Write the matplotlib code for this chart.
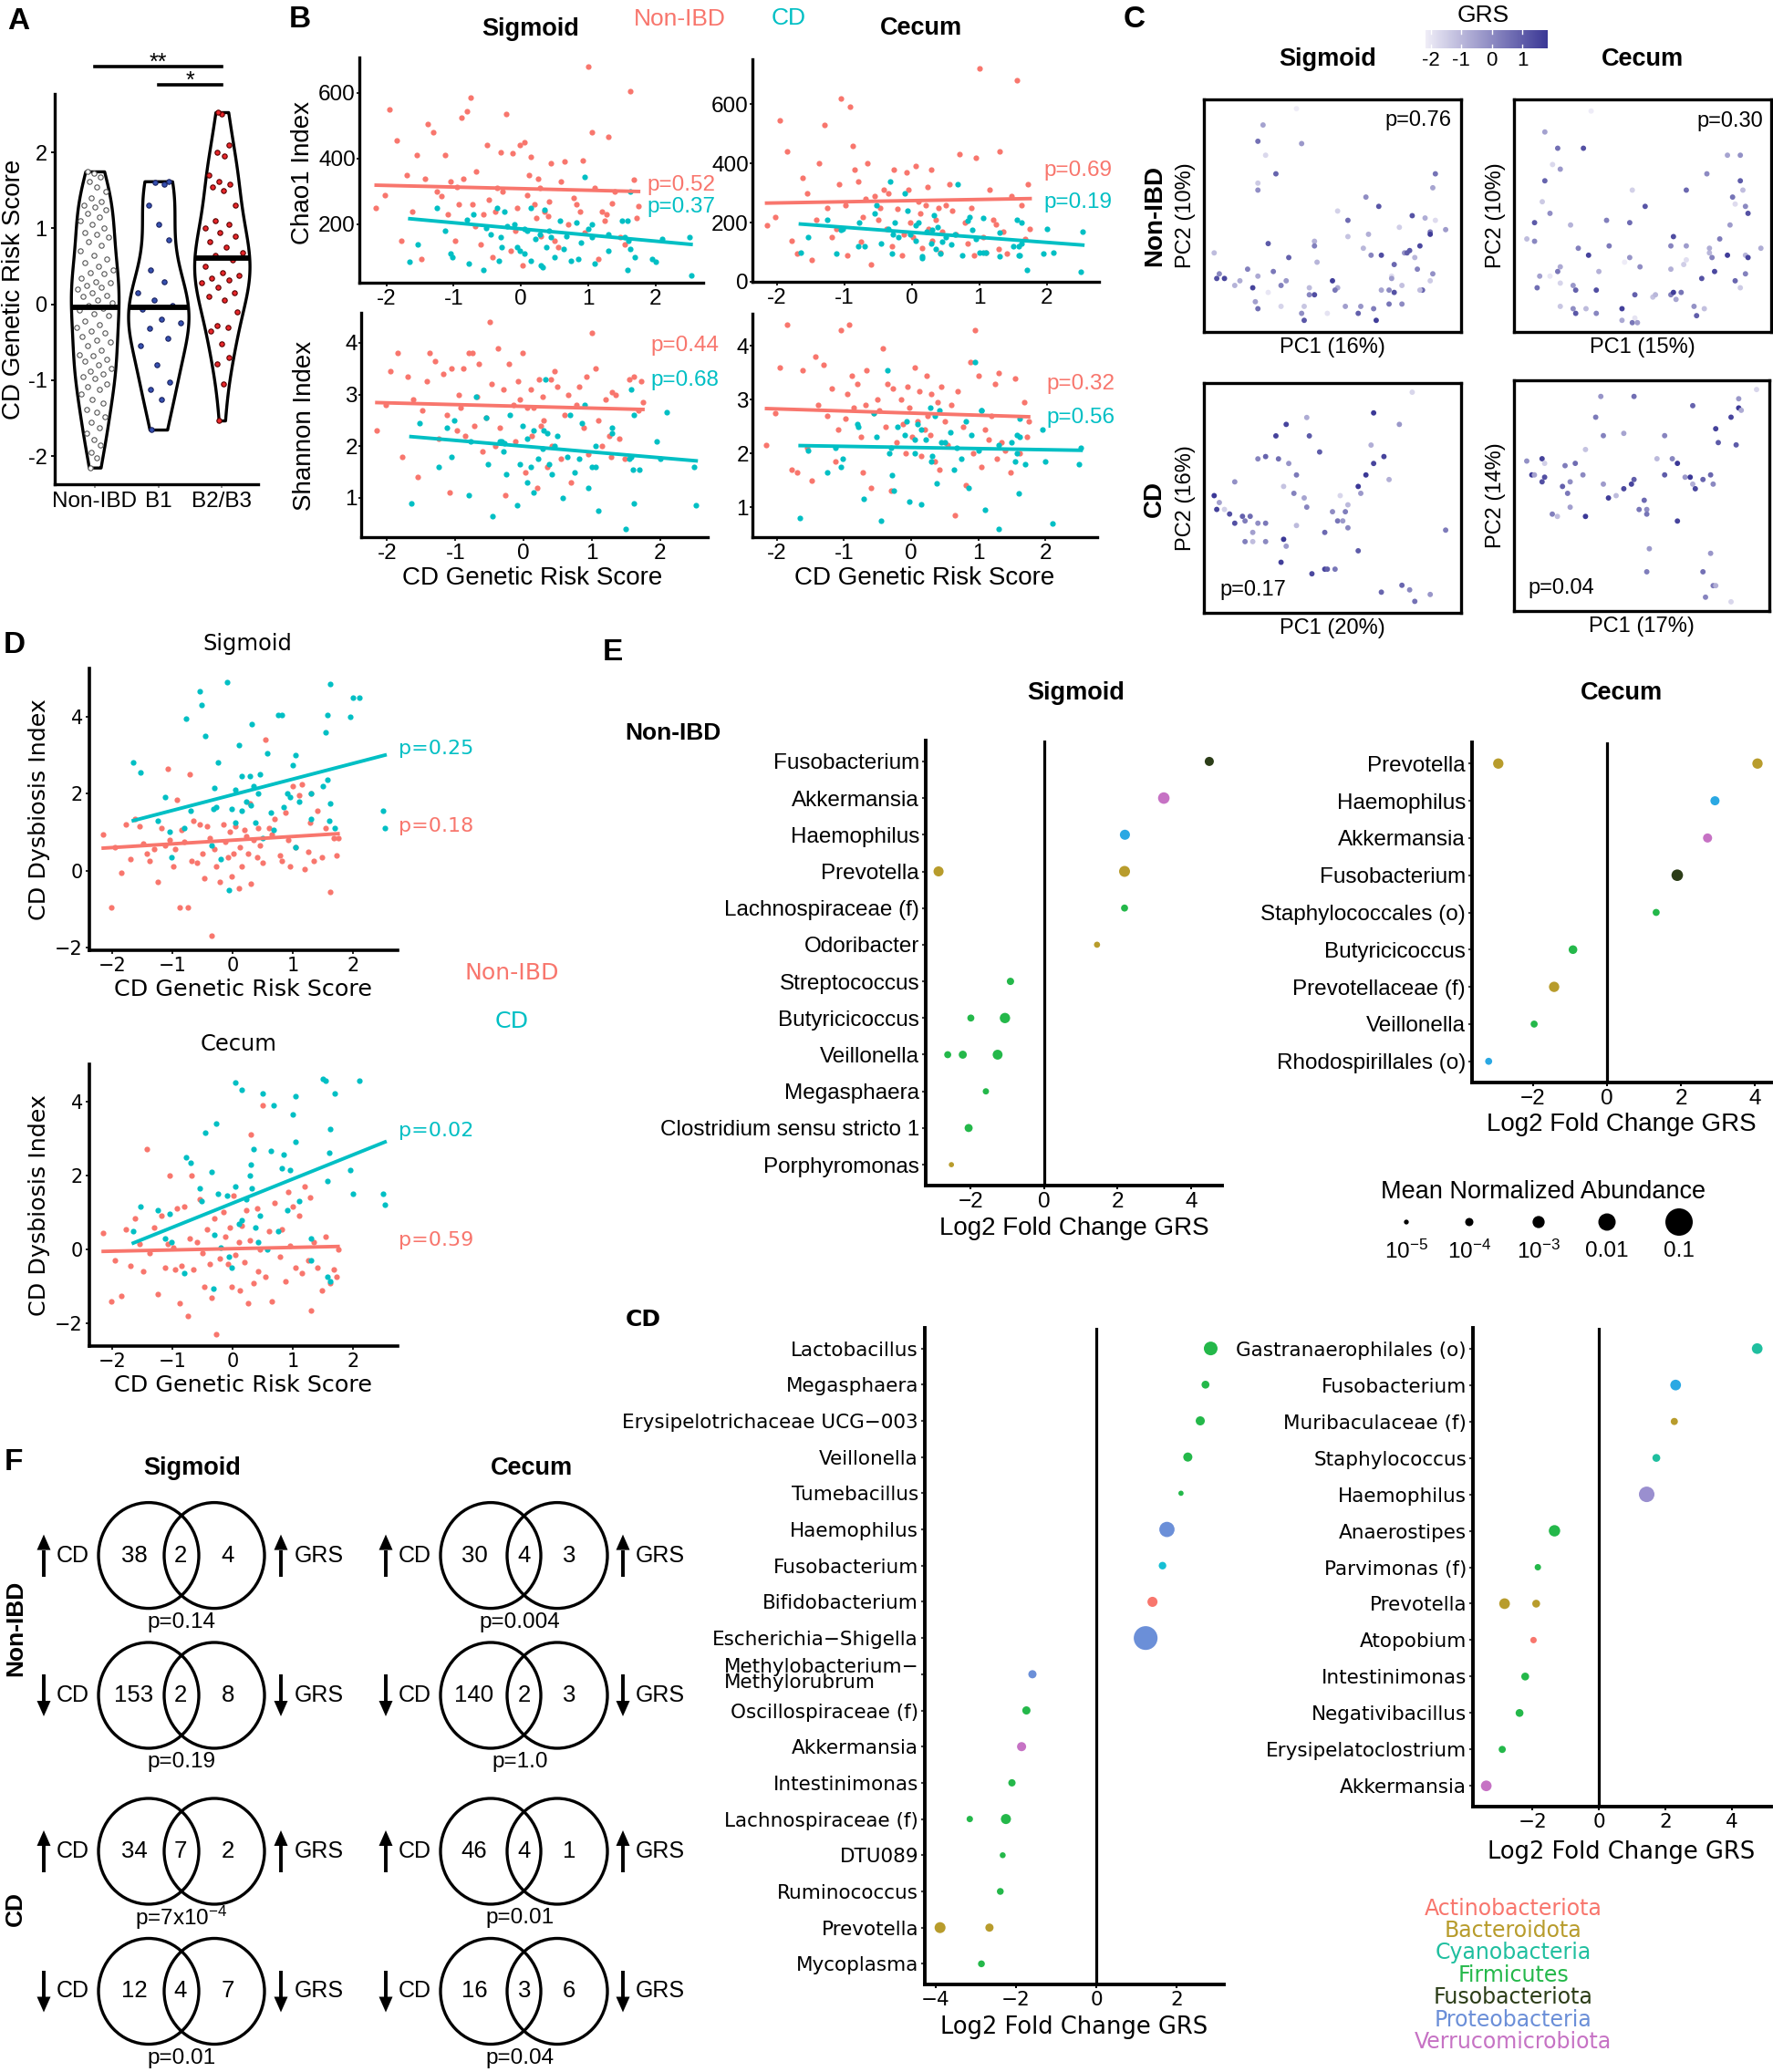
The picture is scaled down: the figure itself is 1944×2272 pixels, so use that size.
import numpy as np
import matplotlib
matplotlib.use('Agg')
import matplotlib.pyplot as plt
from matplotlib import font_manager
from matplotlib.colors import LinearSegmentedColormap, Normalize
from matplotlib.patches import Ellipse, Polygon

W, H = 1944, 2272
names = {f.name for f in font_manager.fontManager.ttflist}
ARIAL = 'Liberation Sans' if 'Liberation Sans' in names else 'DejaVu Sans'
WIDE = 'DejaVu Sans'
plt.rcParams['font.family'] = ARIAL
plt.rcParams['axes.unicode_minus'] = False
plt.rcParams['mathtext.fontset'] = 'custom'
plt.rcParams['mathtext.rm'] = ARIAL
plt.rcParams['mathtext.it'] = ARIAL + ':italic'
plt.rcParams['mathtext.bf'] = ARIAL + ':bold'

RED = '#f8766d'
CYAN = '#00bfc4'

# ---------------- data ----------------
# CD genetic risk score per subject
grs_nonibd = [-2.15, -2.02, -1.95, -1.85, -1.78, -1.70, -1.62, -1.55, -1.48, -1.42,
              -1.38, -1.30, -1.25, -1.18, -1.12, -1.08, -1.05, -0.98, -0.95, -0.92,
              -0.88, -0.85, -0.80, -0.75, -0.72, -0.68, -0.66, -0.60, -0.55, -0.50,
              -0.47, -0.42, -0.38, -0.35, -0.30, -0.27, -0.22, -0.15, -0.12, -0.08,
              -0.05, -0.02, 0.02, 0.05, 0.10, 0.12, 0.15, 0.20, 0.23, 0.25,
              0.28, 0.30, 0.35, 0.40, 0.42, 0.45, 0.50, 0.55, 0.60, 0.65,
              0.70, 0.78, 0.82, 0.88, 0.92, 0.95, 1.00, 1.05, 1.10, 1.15,
              1.20, 1.25, 1.28, 1.30, 1.35, 1.40, 1.48, 1.55, 1.62, 1.68, 1.72, 1.75]
grs_b1 = [-1.65, -1.25, -1.12, -1.02, -0.80, -0.55, -0.45, -0.32, -0.25, -0.20,
          -0.06, -0.02, 0.05, 0.15, 0.30, 0.45, 0.85, 1.05, 1.30, 1.58, 1.60, 1.62]
grs_b2b3 = [-1.53, -1.05, -0.78, -0.70, -0.52, -0.35, -0.30, -0.28, -0.10, 0.05,
            0.10, 0.15, 0.22, 0.28, 0.32, 0.35, 0.38, 0.42, 0.50, 0.58,
            0.64, 0.68, 0.75, 0.82, 0.90, 0.95, 1.00, 1.05, 1.10, 1.30,
            1.50, 1.55, 1.58, 1.62, 1.70, 1.95, 2.00, 2.10, 2.50, 2.53]
grs_cd = grs_b1 + grs_b2b3

chao1_sig_nonibd = [250, 290, 550, 455, 150, 350, 240, 410, 95, 340,
                    505, 480, 300, 285, 410, 230, 330, 150, 315, 260,
                    525, 340, 545, 585, 260, 195, 360, 140, 230, 440,
                    275, 100, 240, 310, 420, 300, 535, 120, 415, 180,
                    250, 440, 75, 450, 290, 350, 405, 260, 220, 340,
                    310, 165, 240, 225, 270, 385, 150, 130, 330, 390,
                    200, 280, 260, 240, 395, 175, 680, 480, 310, 95,
                    240, 210, 230, 465, 265, 300, 160, 140, 605, 335, 220, 255]
chao1_sig_cd = [85, 250, 180, 100, 215, 60, 170, 90, 240, 195,
                130, 120, 185, 250, 75, 160, 95, 200, 170, 210, 150, 300,
                140, 110, 80, 230, 190, 250, 160, 130, 200, 110,
                180, 90, 155, 170, 70, 245, 130, 180, 100, 210,
                125, 165, 90, 205, 145, 345, 185, 160, 80, 120,
                210, 160, 60, 125, 100, 95, 85, 155, 160, 45]
chao1_cec_nonibd = [190, 220, 545, 440, 140, 95, 350, 300, 75, 210,
                    400, 530, 250, 150, 180, 330, 620, 260, 90, 590,
                    460, 380, 340, 135, 220, 280, 400, 60, 290, 210,
                    250, 310, 180, 300, 120, 380, 245, 90, 160, 370,
                    310, 200, 150, 390, 270, 230, 115, 260, 320, 180,
                    380, 140, 210, 250, 100, 170, 260, 330, 240, 160,
                    430, 200, 130, 250, 90, 420, 720, 150, 100, 310,
                    210, 195, 110, 440, 170, 95, 290, 680, 260, 145, 330, 180]
chao1_cec_cd = [100, 210, 95, 180, 120, 230, 130, 340, 200, 150,
                240, 160, 190, 85, 175, 135, 220, 100, 165, 120, 90, 200,
                150, 175, 200, 120, 260, 180, 95, 160, 300, 140,
                200, 80, 170, 130, 225, 110, 185, 95, 150, 125,
                160, 330, 90, 205, 175, 145, 100, 215, 100, 85,
                120, 210, 90, 130, 40, 95, 180, 100, 35, 170]
shannon_sig_nonibd = [2.3, 2.8, 3.45, 3.8, 1.8, 3.35, 2.9, 1.4, 2.7, 3.25,
                      3.8, 3.65, 2.15, 3.4, 2.6, 1.1, 3.5, 2.3, 3.0, 2.75,
                      3.5, 2.2, 3.8, 3.8, 2.4, 2.95, 3.6, 1.9, 2.55, 4.4,
                      3.2, 2.0, 3.9, 2.35, 3.1, 1.05, 3.6, 2.8, 2.1, 3.25,
                      2.9, 3.8, 1.5, 2.75, 3.1, 2.2, 2.75, 1.2, 3.3, 2.4,
                      2.95, 2.5, 1.6, 3.3, 2.0, 3.45, 3.15, 1.75, 2.6, 3.0,
                      1.3, 2.8, 3.15, 2.35, 3.35, 1.85, 4.2, 3.5, 2.5, 2.0,
                      2.9, 2.2, 1.8, 3.05, 3.0, 2.15, 1.75, 3.3, 3.35, 2.7, 3.25, 2.85]
shannon_sig_cd = [0.9, 1.6, 2.35, 2.5, 1.05, 2.55, 0.65, 2.1, 1.45, 2.6,
                  1.65, 2.4, 1.3, 1.1, 2.3, 2.0, 2.45, 1.6, 2.25, 3.1, 1.55, 2.6,
                  2.45, 1.8, 2.1, 2.95, 1.65, 2.1, 1.9, 2.05, 0.85, 2.15,
                  1.6, 2.3, 1.75, 1.95, 3.3, 2.25, 1.65, 1.45, 2.2, 1.0,
                  1.8, 2.6, 1.5, 1.75, 2.8, 1.2, 1.6, 2.0, 0.75, 2.35,
                  0.4, 1.75, 1.8, 0.9, 1.55, 2.1, 1.75, 2.65, 1.6, 0.85]
shannon_cec_nonibd = [2.15, 2.75, 3.6, 4.4, 1.7, 1.65, 3.55, 2.1, 1.5, 3.8,
                      2.9, 3.65, 2.7, 3.2, 1.85, 2.45, 4.3, 2.65, 3.1, 4.4,
                      3.45, 2.85, 3.3, 2.3, 1.65, 2.9, 3.55, 1.35, 2.75, 3.0,
                      2.8, 3.95, 2.5, 3.3, 1.3, 3.2, 2.2, 3.0, 2.55, 2.0,
                      3.25, 2.85, 2.3, 3.6, 2.6, 3.15, 1.95, 2.45, 3.45, 2.7,
                      2.35, 3.1, 1.85, 2.95, 1.7, 3.25, 2.6, 2.15, 2.9, 0.85,
                      3.15, 2.5, 1.4, 3.7, 2.0, 4.3, 3.45, 1.75, 2.45, 2.25,
                      2.7, 3.3, 1.9, 3.5, 2.2, 2.05, 1.65, 3.4, 2.0, 2.95, 2.3, 2.6]
shannon_cec_cd = [0.8, 1.65, 2.1, 1.9, 2.55, 2.75, 0.75, 2.0, 1.3, 2.5,
                  2.6, 1.1, 2.25, 2.45, 1.85, 2.2, 1.35, 2.8, 0.6, 2.35, 1.25, 2.65,
                  2.05, 1.75, 2.5, 1.15, 2.3, 3.55, 2.1, 1.6, 2.35, 2.0,
                  2.55, 1.05, 2.25, 2.85, 1.95, 2.7, 1.45, 2.8, 2.2, 2.4,
                  1.7, 2.1, 1.9, 2.6, 2.35, 3.7, 2.05, 2.8, 0.95, 2.15,
                  2.2, 1.85, 2.0, 2.3, 1.8, 2.45, 1.85, 0.7, 1.8, 2.1]
dysb_sig_nonibd = [0.95, -0.95, 0.6, -0.05, 1.2, 0.3, 1.35, 1.15, 0.7, 0.45,
                   0.25, 0.55, -0.3, 1.1, 0.65, 2.65, 0.8, 0.1, 0.55, 1.85,
                   -0.95, 1.05, 0.75, -0.95, 2.5, 0.25, 1.3, 0.2, 1.2, 0.45,
                   -0.2, 1.15, 0.85, -1.7, 0.55, 0.1, -0.3, 1.2, 0.75, 0.35,
                   1.0, -0.15, 0.45, 1.15, -0.45, 0.6, 0.1, 1.05, 0.9, 0.45,
                   1.75, -0.35, 0.8, 0.35, 1.1, 0.65, 0.2, 3.4, 1.1, 0.95,
                   1.35, 0.4, 0.25, 1.5, 0.8, 0.1, 2.2, 0.6, 1.95, 2.25,
                   0.05, 0.5, 1.25, 2.0, 0.25, 1.55, 0.35, 1.1, -0.55, 0.85, 0.4, 0.85]
dysb_sig_cd = [2.8, 1.3, 1.9, 0.35, 1.1, 4.65, 3.5, 1.6, 2.8, 0.3,
               -0.5, 1.6, 1.25, 2.45, 1.7, 2.5, 1.65, 3.0, 2.0, 4.05, 1.3, 1.75,
               2.55, 1.0, 3.95, 1.55, 4.3, 0.65, 2.15, 1.65, 4.9, 2.1,
               3.25, 1.55, 1.8, 2.45, 3.8, 2.2, 1.25, 2.0, 0.85, 3.05,
               1.5, 1.05, 4.05, 4.05, 2.0, 1.9, 2.75, 0.6, 1.8, 1.35,
               2.2, 3.6, 2.35, 4.85, 1.1, 4.0, 4.5, 4.5, 1.55, 1.1]
dysb_cec_nonibd = [0.45, -1.4, -0.3, -1.25, 0.55, -0.45, 0.85, 0.15, -0.6, 2.7,
                   -0.1, 0.6, -1.2, 0.9, -0.5, 0.15, 2.0, 0.05, -0.55, 1.1,
                   -1.45, -0.45, 1.15, -1.8, 0.3, 2.0, -0.55, 0.2, 1.35, -0.1,
                   -1.0, 0.55, -0.4, -1.3, 0.85, -2.3, -0.25, 1.0, 0.35, -0.4,
                   0.6, -1.0, 1.45, -0.15, 0.2, -1.1, 0.65, -0.35, 1.05, -1.45,
                   0.25, 3.1, -0.9, 1.1, -0.6, 0.0, 3.9, -0.75, 0.5, -1.4,
                   1.25, -0.2, 0.55, -0.85, 1.55, 0.1, 1.15, -0.5, 0.9, -0.65,
                   1.7, -0.3, 1.4, -1.65, 0.2, -0.5, -1.1, 0.35, -0.9, -0.55, -0.75, 0.0]
dysb_cec_cd = [0.5, 1.05, 0.3, 0.2, -0.65, 1.65, 3.15, -1.05, 1.5, 0.05,
               -0.2, -0.5, 1.7, 0.8, 2.3, 0.9, 2.55, 4.15, 0.3, 1.85, 2.6, 3.25,
               1.15, 0.95, 2.5, 2.35, 1.3, 2.1, 0.4, 3.4, 1.45, 4.5,
               0.7, 4.3, 1.35, 2.0, 1.65, 2.7, 0.6, 0.2, 4.2, 0.0,
               2.65, 3.9, 0.5, 2.2, 1.05, 2.15, 3.65, 2.9, 1.3, -0.3,
               4.6, 4.55, -0.75, -0.85, 4.2, 2.15, 1.5, 4.55, 1.5, 1.2]

# linear fits: (slope, intercept) for Non-IBD, CD
fit_chao1_sig = [(-4.9, 308.5), (-18.7, 186.0)]
fit_chao1_cec = [(3.9, 274.0), (-17.0, 167.0)]
fit_shannon_sig = [(-0.034, 2.77), (-0.112, 2.00)]
fit_shannon_cec = [(-0.039, 2.75), (-0.021, 2.11)]
fit_dysb_sig = [(0.096, 0.79), (0.407, 1.97)]
fit_dysb_cec = [(0.034, 0.02), (0.653, 1.25)]

# PCA scores (scaled to the plotting box)
sn_pc1 = [0.36, 0.23, 0.21, 0.24, 0.38, 0.28, 0.21, 0.21, 0.25, 0.04, 0.06, 0.05, 0.12, 0.17, 0.19, 0.21, 0.27,
          0.25, 0.20, 0.21, 0.30, 0.32, 0.33, 0.39, 0.38, 0.39, 0.41, 0.41, 0.43, 0.43, 0.43, 0.50, 0.52, 0.51,
          0.48, 0.55, 0.56, 0.52, 0.61, 0.60, 0.56, 0.63, 0.68, 0.62, 0.65, 0.69, 0.64, 0.66, 0.67, 0.69, 0.72,
          0.73, 0.73, 0.74, 0.76, 0.78, 0.79, 0.77, 0.77, 0.81, 0.82, 0.83, 0.84, 0.86, 0.88, 0.88, 0.89, 0.90,
          0.90, 0.94, 0.85, 0.88, 0.89, 0.80, 0.84, 0.72, 0.74, 0.44, 0.30, 0.08, 0.14]
sn_pc2 = [0.96, 0.89, 0.82, 0.76, 0.81, 0.68, 0.64, 0.61, 0.38, 0.34, 0.25, 0.23, 0.20, 0.27, 0.19, 0.24, 0.26,
          0.17, 0.13, 0.10, 0.11, 0.22, 0.32, 0.11, 0.08, 0.05, 0.19, 0.16, 0.16, 0.39, 0.37, 0.22, 0.19, 0.18,
          0.08, 0.11, 0.48, 0.52, 0.11, 0.08, 0.41, 0.58, 0.54, 0.36, 0.33, 0.33, 0.42, 0.10, 0.05, 0.18, 0.12,
          0.24, 0.23, 0.29, 0.45, 0.34, 0.34, 0.20, 0.12, 0.50, 0.32, 0.27, 0.37, 0.49, 0.43, 0.42, 0.62, 0.68,
          0.48, 0.44, 0.18, 0.22, 0.25, 0.35, 0.18, 0.18, 0.17, 0.30, 0.20, 0.23, 0.22]
cn_pc1 = [0.30, 0.12, 0.17, 0.15, 0.18, 0.12, 0.11, 0.14, 0.08, 0.05, 0.08, 0.27, 0.22, 0.25, 0.29, 0.18, 0.17,
          0.14, 0.10, 0.09, 0.18, 0.23, 0.24, 0.18, 0.23, 0.24, 0.28, 0.32, 0.32, 0.33, 0.36, 0.42, 0.42, 0.46,
          0.47, 0.48, 0.45, 0.46, 0.45, 0.47, 0.54, 0.49, 0.51, 0.55, 0.61, 0.62, 0.61, 0.61, 0.62, 0.63, 0.65,
          0.67, 0.67, 0.67, 0.66, 0.70, 0.71, 0.74, 0.75, 0.73, 0.76, 0.77, 0.78, 0.76, 0.80, 0.83, 0.83, 0.85,
          0.86, 0.84, 0.86, 0.88, 0.88, 0.88, 0.89, 0.90, 0.91, 0.90, 0.90, 0.91, 0.96, 0.37, 0.43]
cn_pc2 = [0.95, 0.86, 0.79, 0.72, 0.70, 0.65, 0.56, 0.51, 0.47, 0.40, 0.39, 0.79, 0.46, 0.36, 0.33, 0.28, 0.26,
          0.24, 0.24, 0.19, 0.21, 0.20, 0.18, 0.11, 0.10, 0.08, 0.10, 0.08, 0.18, 0.26, 0.48, 0.10, 0.05, 0.04,
          0.06, 0.04, 0.47, 0.61, 0.32, 0.16, 0.15, 0.28, 0.54, 0.16, 0.37, 0.41, 0.27, 0.16, 0.17, 0.14, 0.17,
          0.31, 0.37, 0.61, 0.29, 0.11, 0.07, 0.10, 0.68, 0.23, 0.34, 0.32, 0.26, 0.36, 0.40, 0.33, 0.76, 0.58,
          0.55, 0.46, 0.22, 0.19, 0.76, 0.65, 0.61, 0.54, 0.51, 0.33, 0.25, 0.32, 0.36, 0.37, 0.30]
cs_pc1 = [0.81, 0.76, 0.66, 0.40, 0.32, 0.28, 0.41, 0.45, 0.24, 0.21, 0.29, 0.33, 0.36, 0.39, 0.35, 0.31, 0.12,
          0.04, 0.06, 0.05, 0.08, 0.10, 0.12, 0.15, 0.16, 0.18, 0.21, 0.24, 0.19, 0.16, 0.19, 0.24, 0.31, 0.32,
          0.30, 0.36, 0.42, 0.47, 0.48, 0.51, 0.47, 0.50, 0.52, 0.54, 0.55, 0.56, 0.56, 0.60, 0.61, 0.63, 0.65,
          0.66, 0.70, 0.60, 0.69, 0.77, 0.80, 0.82, 0.88, 0.94, 0.72, 0.40, 0.53]
cs_pc2 = [0.96, 0.82, 0.87, 0.85, 0.82, 0.77, 0.77, 0.70, 0.68, 0.67, 0.67, 0.65, 0.60, 0.50, 0.52, 0.55, 0.57,
          0.51, 0.48, 0.45, 0.45, 0.43, 0.39, 0.42, 0.40, 0.42, 0.39, 0.39, 0.35, 0.31, 0.31, 0.31, 0.32, 0.29,
          0.22, 0.38, 0.17, 0.19, 0.19, 0.19, 0.35, 0.44, 0.40, 0.40, 0.44, 0.47, 0.37, 0.55, 0.52, 0.60, 0.73,
          0.65, 0.68, 0.27, 0.09, 0.12, 0.10, 0.05, 0.08, 0.36, 0.58, 0.46, 0.51]
cc_pc1 = [0.95, 0.88, 0.88, 0.89, 0.85, 0.79, 0.80, 0.87, 0.70, 0.59, 0.47, 0.34, 0.32, 0.43, 0.35, 0.28, 0.05,
          0.07, 0.08, 0.11, 0.12, 0.12, 0.11, 0.19, 0.20, 0.24, 0.22, 0.21, 0.22, 0.15, 0.17, 0.27, 0.28, 0.35,
          0.37, 0.40, 0.43, 0.46, 0.47, 0.49, 0.51, 0.52, 0.52, 0.53, 0.52, 0.56, 0.62, 0.64, 0.67, 0.69, 0.70,
          0.71, 0.64, 0.59, 0.74, 0.77, 0.78, 0.74, 0.77, 0.78, 0.79, 0.75, 0.85]
cc_pc2 = [0.96, 0.92, 0.88, 0.87, 0.84, 0.79, 0.73, 0.72, 0.89, 0.76, 0.93, 0.93, 0.84, 0.77, 0.76, 0.70, 0.65,
          0.59, 0.59, 0.66, 0.64, 0.58, 0.56, 0.54, 0.63, 0.64, 0.56, 0.51, 0.45, 0.42, 0.41, 0.59, 0.41, 0.55,
          0.49, 0.50, 0.53, 0.55, 0.57, 0.44, 0.48, 0.44, 0.42, 0.27, 0.17, 0.66, 0.66, 0.64, 0.58, 0.58, 0.55,
          0.53, 0.39, 0.59, 0.57, 0.59, 0.55, 0.17, 0.25, 0.11, 0.11, 0.06, 0.04]

# differential abundance (Log2 fold change per GRS)
sn_taxa = ['Fusobacterium', 'Akkermansia', 'Haemophilus', 'Prevotella', 'Lachnospiraceae (f)', 'Odoribacter',
           'Streptococcus', 'Butyricicoccus', 'Veillonella', 'Megasphaera', 'Clostridium sensu stricto 1',
           'Porphyromonas']
sn_pt_taxon = ['Fusobacterium', 'Akkermansia', 'Haemophilus', 'Prevotella', 'Prevotella', 'Lachnospiraceae (f)',
               'Odoribacter', 'Streptococcus', 'Butyricicoccus', 'Butyricicoccus', 'Veillonella', 'Veillonella',
               'Veillonella', 'Megasphaera', 'Clostridium sensu stricto 1', 'Porphyromonas']
sn_lfc = [4.5, 3.26, 2.2, -2.88, 2.19, 2.19, 1.44, -0.92, -2.0, -1.07, -2.63, -2.22, -1.27, -1.59, -2.06, -2.53]
sn_abund = [1.7e-4, 7e-4, 3e-4, 3e-4, 5e-4, 4.5e-5, 2.4e-5, 5.4e-5, 4.5e-5, 3.5e-4, 4.5e-5, 9e-5, 2.7e-4, 2.7e-5,
            9e-5, 1.3e-5]

cn_taxa = ['Prevotella', 'Haemophilus', 'Akkermansia', 'Fusobacterium', 'Staphylococcales (o)', 'Butyricicoccus',
           'Prevotellaceae (f)', 'Veillonella', 'Rhodospirillales (o)']
cn_pt_taxon = ['Prevotella', 'Prevotella', 'Haemophilus', 'Akkermansia', 'Fusobacterium', 'Staphylococcales (o)',
               'Butyricicoccus', 'Prevotellaceae (f)', 'Veillonella', 'Rhodospirillales (o)']
cn_lfc = [-2.94, 4.07, 2.92, 2.72, 1.9, 1.33, -0.92, -1.43, -1.97, -3.2]
cn_abund = [3.5e-4, 3.5e-4, 1.7e-4, 1.7e-4, 7e-4, 4.5e-5, 1.3e-4, 3.5e-4, 4.5e-5, 4.5e-5]

cs_taxa = ['Lactobacillus', 'Megasphaera', 'Erysipelotrichaceae UCG\u2212003', 'Veillonella', 'Tumebacillus',
           'Haemophilus', 'Fusobacterium', 'Bifidobacterium', 'Escherichia\u2212Shigella',
           'Methylobacterium\u2212\nMethylorubrum', 'Oscillospiraceae (f)', 'Akkermansia', 'Intestinimonas',
           'Lachnospiraceae (f)', 'DTU089', 'Ruminococcus', 'Prevotella', 'Mycoplasma']
cs_pt_taxon = cs_taxa[:14] + ['Lachnospiraceae (f)', 'DTU089', 'Ruminococcus', 'Prevotella', 'Prevotella',
                              'Mycoplasma']
cs_lfc = [2.85, 2.72, 2.59, 2.28, 2.11, 1.76, 1.65, 1.40, 1.23, -1.59, -1.74, -1.86, -2.10, -3.15, -2.25, -2.33,
          -2.39, -3.89, -2.66, -2.86]
cs_abund = [2e-3, 8e-5, 1.7e-4, 1.7e-4, 1.3e-5, 4e-3, 6.5e-5, 3e-4, 0.044, 1e-4, 1e-4, 1.7e-4, 5.4e-5, 2.9e-5,
            3e-4, 2.1e-5, 3.9e-5, 5e-4, 1e-4, 3.9e-5]

cc_taxa = ['Gastranaerophilales (o)', 'Fusobacterium', 'Muribaculaceae (f)', 'Staphylococcus', 'Haemophilus',
           'Anaerostipes', 'Parvimonas (f)', 'Prevotella', 'Atopobium', 'Intestinimonas', 'Negativibacillus',
           'Erysipelatoclostrium', 'Akkermansia']
cc_pt_taxon = cc_taxa[:8] + ['Prevotella'] + cc_taxa[8:]
cc_lfc = [4.75, 2.30, 2.26, 1.72, 1.43, -1.34, -1.84, -2.84, -1.89, -1.97, -2.22, -2.39, -2.91, -3.39]
cc_abund = [4.3e-4, 4.3e-4, 4.8e-5, 7.8e-5, 4.5e-3, 6.5e-4, 2.9e-5, 4.3e-4, 7.8e-5, 2.9e-5, 7.8e-5, 7.8e-5,
            4.8e-5, 4.3e-4]

phyla = ['Actinobacteriota', 'Bacteroidota', 'Cyanobacteria', 'Firmicutes', 'Fusobacteriota', 'Proteobacteria',
         'Verrucomicrobiota']
abund_breaks = [1e-5, 1e-4, 1e-3, 1e-2, 1e-1]
abund_labels = ['$10^{-5}$', '$10^{-4}$', '$10^{-3}$', '0.01', '0.1']

venn_sig = [[38, 2, 4], [153, 2, 8], [34, 7, 2], [12, 4, 7]]
venn_cec = [[30, 4, 3], [140, 2, 3], [46, 4, 1], [16, 3, 6]]
venn_up = [True, False, True, False]
venn_p_sig = ['p=0.14', 'p=0.19', 'p=7x10$^{-4}$', 'p=0.01']
venn_p_cec = ['p=0.004', 'p=1.0', 'p=0.01', 'p=0.04']

# ---------------- styles ----------------
C_ACT, C_BAC, C_CYA, C_FIR = '#f8766d', '#b89c2c', '#1fbf9f', '#24b84a'
C_FUS, C_PRO, C_VER = '#2c3d18', '#6b8fd8', '#c672c4'
C_SKY, C_CYN, C_LAV = '#2aa8e3', '#16bfd4', '#9a8fcf'
phylum_colors = [C_ACT, C_BAC, C_CYA, C_FIR, C_FUS, C_PRO, C_VER]
sn_cols = [C_FUS, C_VER, C_SKY, C_BAC, C_BAC, C_FIR, C_BAC, C_FIR, C_FIR, C_FIR, C_FIR, C_FIR, C_FIR, C_FIR,
           C_FIR, C_BAC]
cn_cols = [C_BAC, C_BAC, C_SKY, C_VER, C_FUS, C_FIR, C_FIR, C_BAC, C_FIR, C_SKY]
cs_cols = [C_FIR, C_FIR, C_FIR, C_FIR, C_FIR, C_PRO, C_CYN, C_ACT, C_PRO, C_PRO, C_FIR, C_VER, C_FIR, C_FIR,
           C_FIR, C_FIR, C_FIR, C_BAC, C_BAC, C_FIR]
cc_cols = [C_CYA, C_SKY, C_BAC, C_CYA, C_LAV, C_FIR, C_FIR, C_BAC, C_BAC, C_ACT, C_FIR, C_FIR, C_FIR, C_VER]
DIAM_PX = [5.3, 9.0, 13.3, 19.0, 30.0]
grs_cmap = LinearSegmentedColormap.from_list('grs', ['#f0eef8', '#3b3896'])
grs_norm = Normalize(-2.2, 1.85)

fig = plt.figure(figsize=(W / 100, H / 100), dpi=100)
canvas = fig.add_axes([0, 0, 1, 1], zorder=10)
canvas.set_xlim(0, W)
canvas.set_ylim(H, 0)
canvas.axis('off')


def add_ax(l, t, r, b):
    ax = fig.add_axes([l / W, 1 - b / H, (r - l) / W, (b - t) / H])
    ax.set_facecolor('none')
    return ax


def txt(x, y, s, size, **kw):
    kw.setdefault('ha', 'center')
    kw.setdefault('va', 'center')
    canvas.text(x, y, s, fontsize=size, **kw)


def tick_labels(ticks, uminus=False):
    m = '\u2212' if uminus else '-'
    return [(m + f'{abs(t):g}') if t < 0 else f'{t:g}' for t in ticks]


def style_axes(ax, lw=2.4):
    for s in ['top', 'right']:
        ax.spines[s].set_visible(False)
    for s in ['left', 'bottom']:
        ax.spines[s].set_linewidth(lw)


def size_pts(a):
    d = np.interp(np.log10(a), np.log10(abund_breaks), DIAM_PX)
    return (d * 0.72) ** 2


def kde_profile(vals, width):
    v = np.asarray(vals, float)
    q75, q25 = np.percentile(v, [75, 25])
    bw = 0.9 * min(v.std(ddof=1), (q75 - q25) / 1.34) * len(v) ** -0.2
    ys = np.linspace(v.min(), v.max(), 300)
    dens = np.exp(-0.5 * ((ys[:, None] - v[None, :]) / bw) ** 2).sum(axis=1)
    return ys, dens / dens.max() * width / 2


# panel letters
for letter, (x, y) in zip('ABCDEF', [(20, 23), (329, 21), (1244, 22), (16, 707), (672, 716), (15, 1603)]):
    txt(x, y, letter, 24, fontweight='bold')

# ---------------- A: violins ----------------
axA = add_ax(60, 103, 283, 531)
style_axes(axA)
violin_groups = [grs_nonibd, grs_b1, grs_b2b3]
violin_widths = [0.75, 0.95, 0.87]
point_style = [('white', '#555555'), ('#3550b0', '#1a2260'), ('#e8262a', '#5a0000')]
for pos, vals, wd, (fc, ec) in zip([1, 2, 3], violin_groups, violin_widths, point_style):
    ys, half = kde_profile(vals, wd)
    axA.fill_betweenx(ys, pos - half, pos + half, facecolor='white', edgecolor='black', lw=2.4, zorder=1)
    med = np.median(vals)
    hw = np.interp(med, ys, half)
    axA.plot([pos - hw, pos + hw], [med, med], color='black', lw=4.2, solid_capstyle='butt', zorder=3)
    v = np.asarray(vals)
    u = ((np.arange(len(v)) * 0.618034) % 1) * 2 - 1
    xs = pos + u * np.interp(v, ys, half) * 0.82
    axA.scatter(xs, v, s=15, facecolor=fc, edgecolor=ec, lw=0.8, zorder=2)
axA.set_xlim(0.37, 3.57)
axA.set_ylim(-2.37, 2.77)
axA.set_yticks([-2, -1, 0, 1, 2])
axA.set_yticklabels(tick_labels([-2, -1, 0, 1, 2]), fontsize=17)
axA.set_xticks([1, 2, 3])
axA.set_xticklabels(['Non-IBD', 'B1', 'B2/B3'], fontsize=17.5)
axA.tick_params(length=3, width=1.3, pad=3)
axA.tick_params(axis='x', color='#888888')
axA.plot([1, 3], [3.13, 3.13], color='black', lw=2.6, clip_on=False)
axA.plot([2, 3], [2.89, 2.89], color='black', lw=2.6, clip_on=False)
axA.text(2, 3.18, '**', ha='center', va='center', fontsize=18)
axA.text(2.5, 2.94, '*', ha='center', va='center', fontsize=18)
txt(15, 317, 'CD Genetic Risk Score', 20, rotation=90)

# ---------------- B: alpha diversity ----------------
b_panels = [
    ((394, 63, 771, 310), (-2.40, 2.71), (22, 708), [200, 400, 600], chao1_sig_nonibd, chao1_sig_cd,
     fit_chao1_sig, ['p=0.52', 'p=0.37'], [(709, 203), (709, 227)]),
    ((825, 65, 1205, 309), (-2.36, 2.77), (0, 751), [0, 200, 400, 600], chao1_cec_nonibd, chao1_cec_cd,
     fit_chao1_cec, ['p=0.69', 'p=0.19'], [(1144, 187), (1144, 222)]),
    ((396, 343, 776, 589), (-2.38, 2.70), (0.24, 4.58), [1, 2, 3, 4], shannon_sig_nonibd, shannon_sig_cd,
     fit_shannon_sig, ['p=0.44', 'p=0.68'], [(713, 379), (713, 417)]),
    ((825, 344, 1203, 589), (-2.36, 2.77), (0.44, 4.6), [1, 2, 3, 4], shannon_cec_nonibd, shannon_cec_cd,
     fit_shannon_cec, ['p=0.32', 'p=0.56'], [(1147, 421), (1147, 458)]),
]
for rect, xl, yl, yt, y_n, y_c, fits, ptxt, ppos in b_panels:
    ax = add_ax(*rect)
    style_axes(ax)
    ax.scatter(grs_nonibd, y_n, s=20, color=RED, lw=0, zorder=2)
    ax.scatter(grs_cd, y_c, s=20, color=CYAN, lw=0, zorder=2)
    for grs, (m, c), col in zip([grs_nonibd, grs_cd], fits, [RED, CYAN]):
        xx = np.array([min(grs), max(grs)])
        ax.plot(xx, m * xx + c, color=col, lw=2.8, zorder=3)
    ax.set_xlim(*xl)
    ax.set_ylim(*yl)
    ax.set_xticks([-2, -1, 0, 1, 2])
    ax.set_xticklabels(tick_labels([-2, -1, 0, 1, 2]), fontsize=17.5)
    ax.set_yticks(yt)
    ax.set_yticklabels(tick_labels(yt), fontsize=17.5)
    ax.tick_params(axis='y', length=2, width=1.2, pad=1)
    ax.tick_params(axis='x', length=3, width=1.2, pad=2)
    for s, (px, py), col in zip(ptxt, ppos, [RED, CYAN]):
        txt(px, py, s, 17.5, ha='left', color=col)
txt(582, 32, 'Sigmoid', 19.5, fontweight='bold')
txt(1010, 31, 'Cecum', 19.5, fontweight='bold')
txt(745, 21, 'Non-IBD', 19, color=RED)
txt(865, 20, 'CD', 19, color=CYAN)
txt(332, 189, 'Chao1 Index', 20, rotation=90)
txt(334, 467, 'Shannon Index', 20, rotation=90)
txt(584, 634, 'CD Genetic Risk Score', 20)
txt(1014, 634, 'CD Genetic Risk Score', 20)

# ---------------- C: PCA ----------------
c_panels = [
    ((1320, 109, 1602, 364), sn_pc1, sn_pc2, grs_nonibd, 'PC1 (16%)', 'PC2 (10%)', 'p=0.76', (1591, 132, 'right')),
    ((1660, 109, 1942, 364), cn_pc1, cn_pc2, grs_nonibd, 'PC1 (15%)', 'PC2 (10%)', 'p=0.30', (1933, 133, 'right')),
    ((1320, 420, 1602, 672), cs_pc1, cs_pc2, grs_cd, 'PC1 (20%)', 'PC2 (16%)', 'p=0.17', (1337, 647, 'left')),
    ((1660, 417, 1940, 670), cc_pc1, cc_pc2, grs_cd, 'PC1 (17%)', 'PC2 (14%)', 'p=0.04', (1675, 645, 'left')),
]
for rect, pc1, pc2, grs, xlab, ylab, ptxt, (px, py, pha) in c_panels:
    ax = add_ax(*rect)
    for s in ax.spines.values():
        s.set_linewidth(2.4)
    g = np.asarray(grs)
    cvals = g[(np.arange(len(pc1)) * 29) % len(g)]
    ax.scatter(pc1, pc2, c=cvals, cmap=grs_cmap, norm=grs_norm, s=18, lw=0)
    ax.set_xlim(0, 1)
    ax.set_ylim(0, 1)
    ax.set_xticks([])
    ax.set_yticks([])
    l, t, r, b = rect
    txt((l + r) / 2, b + 17, xlab, 17)
    txt(l - 20, (t + b) / 2, ylab, 17, rotation=90)
    txt(px, py, ptxt, 17, ha=pha)
txt(1456, 65, 'Sigmoid', 19.5, fontweight='bold')
txt(1801, 65, 'Cecum', 19.5, fontweight='bold')
txt(1266, 237, 'Non-IBD', 20, fontweight='bold', rotation=90)
txt(1266, 547, 'CD', 20, fontweight='bold', rotation=90)
axc = add_ax(1563, 33, 1697, 53)
axc.imshow(np.linspace(-2.18, 1.84, 200)[None, :], cmap=grs_cmap, norm=grs_norm, aspect='auto',
           extent=[-2.18, 1.84, 0, 1])
for t in [-2, -1, 0, 1]:
    axc.plot([t, t], [0, 0.2], color='white', lw=1)
    axc.plot([t, t], [0.8, 1], color='white', lw=1)
axc.set_xlim(-2.18, 1.84)
axc.set_ylim(0, 1)
axc.set_yticks([])
axc.set_xticks([-2, -1, 0, 1])
axc.set_xticklabels(tick_labels([-2, -1, 0, 1]), fontsize=16)
axc.tick_params(axis='x', length=0, pad=2)
for s in axc.spines.values():
    s.set_visible(False)
txt(1626, 17, 'GRS', 19)

# ---------------- D: dysbiosis ----------------
d_panels = [
    ((98, 733, 436, 1042), (-2.07, 5.25), dysb_sig_nonibd, dysb_sig_cd, fit_dysb_sig,
     ['p=0.18', 'p=0.25'], [(437, 906), (437, 821)], 'Sigmoid', (271, 706), 888, 1085),
    ((98, 1167, 436, 1476), (-2.61, 5.0), dysb_cec_nonibd, dysb_cec_cd, fit_dysb_cec,
     ['p=0.59', 'p=0.02'], [(437, 1360), (437, 1240)], 'Cecum', (262, 1145), 1322, 1519),
]
for rect, yl, y_n, y_c, fits, ptxt, ppos, title, tpos, ylab_y, xlab_y in d_panels:
    ax = add_ax(*rect)
    style_axes(ax, 2.6)
    ax.scatter(grs_nonibd, y_n, s=20, color=RED, lw=0, zorder=2)
    ax.scatter(grs_cd, y_c, s=20, color=CYAN, lw=0, zorder=2)
    for grs, (m, c), col in zip([grs_nonibd, grs_cd], fits, [RED, CYAN]):
        xx = np.array([min(grs), max(grs)])
        ax.plot(xx, m * xx + c, color=col, lw=2.8, zorder=3)
    ax.set_xlim(-2.38, 2.74)
    ax.set_ylim(*yl)
    ax.set_xticks([-2, -1, 0, 1, 2])
    ax.set_xticklabels(tick_labels([-2, -1, 0, 1, 2], True), fontsize=15, family=WIDE)
    ax.set_yticks([-2, 0, 2, 4])
    ax.set_yticklabels(tick_labels([-2, 0, 2, 4], True), fontsize=15, family=WIDE)
    ax.tick_params(length=3, width=1.2, pad=2)
    for s, (px, py), col in zip(ptxt, ppos, [RED, CYAN]):
        txt(px, py, s, 16, ha='left', color=col, family=WIDE)
    txt(tpos[0], tpos[1], title, 17.4, family=WIDE)
    txt(43, ylab_y, 'CD Dysbiosis Index', 18.3, rotation=90, family=WIDE)
    txt(266, xlab_y, 'CD Genetic Risk Score', 18.3, family=WIDE)
txt(561, 1067, 'Non-IBD', 18.2, color=RED, family=WIDE)
txt(561, 1120, 'CD', 18.2, color=CYAN, family=WIDE)

# ---------------- E: differential abundance ----------------
e_panels = [
    ((1015, 812, 1340, 1300), sn_taxa, sn_pt_taxon, sn_lfc, sn_abund, sn_cols, (-3.23, 4.85), [-2, 0, 2, 4],
     ARIAL, 17.5, 17.5, 20, (1178, 1347)),
    ((1614, 814, 1942, 1187), cn_taxa, cn_pt_taxon, cn_lfc, cn_abund, cn_cols, (-3.65, 4.44), [-2, 0, 2, 4],
     ARIAL, 17.5, 17.5, 20, (1778, 1233)),
    ((1014, 1456, 1342, 2176), cs_taxa, cs_pt_taxon, cs_lfc, cs_abund, cs_cols, (-4.27, 3.18), [-4, -2, 0, 2],
     WIDE, 15.5, 15.5, 18.5, (1178, 2223)),
    ((1615, 1456, 1942, 1981), cc_taxa, cc_pt_taxon, cc_lfc, cc_abund, cc_cols, (-3.79, 5.17), [-2, 0, 2, 4],
     WIDE, 15.5, 15.5, 18.5, (1778, 2031)),
]
for rect, taxa, pt_taxa, lfc, ab, cols, xl, xt, fam, lsize, tsize, xsize, xlpos in e_panels:
    ax = add_ax(*rect)
    style_axes(ax, 2.8)
    n = len(taxa)
    rows = [taxa.index(t) + 1 for t in pt_taxa]
    ax.axvline(0, color='black', lw=2.3, zorder=1)
    ax.scatter(lfc, rows, s=size_pts(ab), c=cols, lw=0, zorder=2)
    ax.set_xlim(*xl)
    ax.set_ylim(n + 0.57, 0.43)
    ax.set_yticks(range(1, n + 1))
    ax.set_yticklabels(taxa, fontsize=lsize, family=fam)
    for lbl in ax.get_yticklabels():
        lbl.set_linespacing(0.85)
        lbl.set_multialignment('left')
    ax.set_xticks(xt)
    ax.set_xticklabels(tick_labels(xt, True), fontsize=tsize, family=fam)
    ax.tick_params(axis='y', length=3, width=1.5, pad=2, color='#444444')
    ax.tick_params(axis='x', length=3, width=1.5, pad=2)
    txt(xlpos[0], xlpos[1], 'Log2 Fold Change GRS', xsize, family=fam)
txt(1180, 760, 'Sigmoid', 19.5, fontweight='bold')
txt(1778, 760, 'Cecum', 19.5, fontweight='bold')
txt(685, 804, 'Non-IBD', 19, fontweight='bold', ha='left')
txt(705, 1447, 'CD', 18, fontweight='bold', family=WIDE)
# size legend
txt(1692, 1307, 'Mean Normalized Abundance', 19.5)
leg_x = [1542, 1611, 1687, 1762, 1841]
canvas.scatter(leg_x, [1340] * 5, s=size_pts(abund_breaks), color='black', lw=0)
for x, lab in zip(leg_x, abund_labels):
    txt(x, 1372, lab, 17.5)
# phylum legend
for i, (ph, col) in enumerate(zip(phyla, phylum_colors)):
    txt(1659, 2092.5 + i * 24.4, ph, 17, color=col, family=WIDE)

# ---------------- F: Venn diagrams ----------------
row_y = [1705.6, 1859, 2030, 2183.5]
f_cols = [
    dict(circ=(163, 235), arrows=(48, 308), labels=(80, 350), nums=(147, 198, 250), px=199,
         counts=venn_sig, ptxt=venn_p_sig),
    dict(circ=(538, 611), arrows=(423, 683), labels=(455, 724), nums=(520, 575, 624), px=570,
         counts=venn_cec, ptxt=venn_p_cec),
]


def draw_arrow(x, yc, up):
    sgn = -1 if up else 1
    tip = yc + sgn * 23
    base = tip - sgn * 17
    tail = yc - sgn * 23
    canvas.plot([x, x], [tail, base], color='black', lw=2.8, solid_capstyle='butt')
    canvas.add_patch(Polygon([(x - 7.5, base), (x + 7.5, base), (x, tip)], closed=True, color='black', lw=0))


for col in f_cols:
    for yc, cnt, up, ptxt in zip(row_y, col['counts'], venn_up, col['ptxt']):
        for cx in col['circ']:
            canvas.add_patch(Ellipse((cx, yc), 110, 116, fill=False, lw=2.4, edgecolor='black'))
        for nx, v in zip(col['nums'], cnt):
            txt(nx, yc, str(v), 18.5)
        draw_arrow(col['arrows'][0], yc, up)
        draw_arrow(col['arrows'][1], yc, up)
        txt(col['labels'][0], yc, 'CD', 18)
        txt(col['labels'][1], yc, 'GRS', 18)
        txt(col['px'], yc + 73, ptxt, 17.5)
txt(211, 1610, 'Sigmoid', 19.5, fontweight='bold')
txt(583, 1610, 'Cecum', 19.5, fontweight='bold')
txt(17, 1785, 'Non-IBD', 19, fontweight='bold', rotation=90)
txt(17, 2093, 'CD', 19, fontweight='bold', rotation=90)

fig.savefig('out.png', dpi=100)
